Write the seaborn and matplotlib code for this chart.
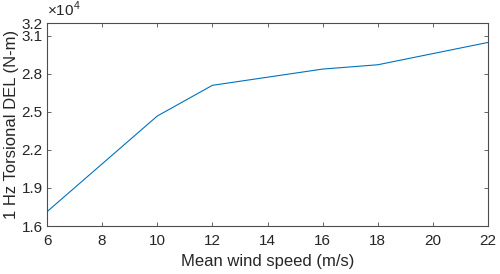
import matplotlib
matplotlib.use("Agg")
import matplotlib.pyplot as plt
import pandas as pd
import seaborn as sns

# values (y in units of 1e4 N-m)
wind_speed = [6, 10, 12, 16, 18, 22]
torsional_del = [1.713, 2.467, 2.709, 2.837, 2.871, 3.047]
x_ticks = [6, 8, 10, 12, 14, 16, 18, 20, 22]
y_ticks = [1.6, 1.9, 2.2, 2.5, 2.8, 3.1, 3.2]

sns.set_style("ticks")
plt.rcParams["font.family"] = ["Liberation Sans", "DejaVu Sans"]
plt.rcParams["mathtext.fontset"] = "custom"
plt.rcParams["mathtext.rm"] = "Liberation Sans"

df = pd.DataFrame({"speed": wind_speed, "del": torsional_del})

fig = plt.figure(figsize=(5.0, 2.74), dpi=100)
ax = fig.add_axes([0.094, 0.175, 0.882, 0.741])
sns.lineplot(data=df, x="speed", y="del", color="#0072BD", linewidth=0.8, ax=ax)

ax.set_xlim(6, 22)
ax.set_ylim(1.6, 3.2)
ax.set_xticks(x_ticks)
ax.set_yticks(y_ticks)
ax.set_yticklabels([f"{v:.1f}" for v in y_ticks])

txt = "#262626"
for side in ["left", "right", "top", "bottom"]:
    ax.spines[side].set_visible(True)
    ax.spines[side].set_color("#4d4d4d")
    ax.spines[side].set_linewidth(0.8)
ax.tick_params(direction="in", top=True, right=True, length=3, width=0.6,
               color="#4d4d4d", labelsize=11, labelcolor=txt)
ax.tick_params(axis="x", pad=6)
ax.tick_params(axis="y", pad=3)

ax.set_xlabel("Mean wind speed (m/s)", fontsize=12, color=txt, labelpad=4)
ax.set_ylabel("1 Hz Torsional DEL (N-m)", fontsize=12, color=txt, labelpad=2)
ax.text(0.0, 1.02, r"$\times10^4$", transform=ax.transAxes, fontsize=11,
        color=txt, ha="left", va="bottom")

fig.savefig("out.png", dpi=100)
